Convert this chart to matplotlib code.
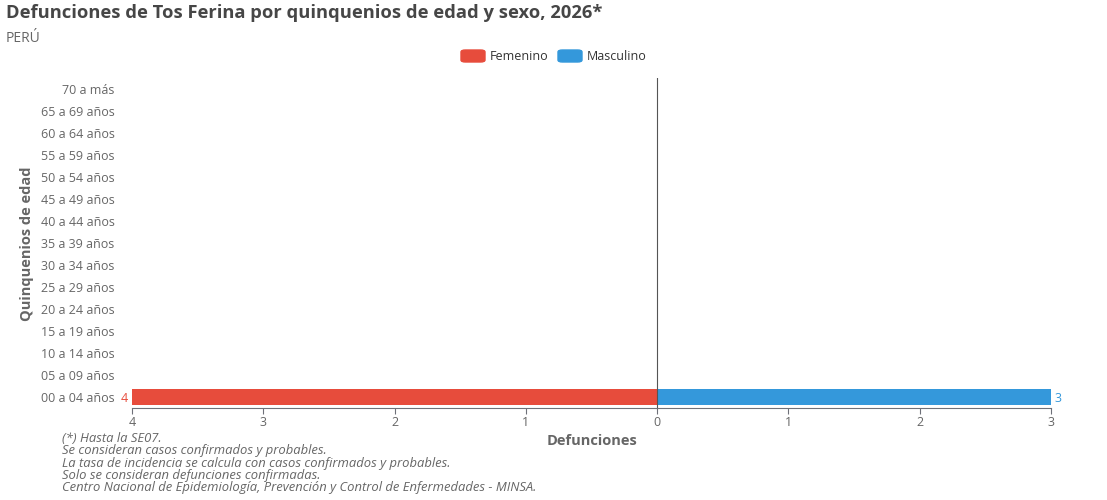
import matplotlib.pyplot as plt
from matplotlib.patches import FancyBboxPatch
from matplotlib.ticker import FuncFormatter
import numpy as np

plt.rcParams['font.family'] = ['Open Sans', 'DejaVu Sans']

grupos = ['00 a 04 años', '05 a 09 años', '10 a 14 años', '15 a 19 años',
          '20 a 24 años', '25 a 29 años', '30 a 34 años', '35 a 39 años',
          '40 a 44 años', '45 a 49 años', '50 a 54 años', '55 a 59 años',
          '60 a 64 años', '65 a 69 años', '70 a más']
femenino = [4, 0, 0, 0, 0, 0, 0, 0, 0, 0, 0, 0, 0, 0, 0]
masculino = [3, 0, 0, 0, 0, 0, 0, 0, 0, 0, 0, 0, 0, 0, 0]

notas = ['(*) Hasta la SE07.',
         'Se consideran casos confirmados y probables.',
         'La tasa de incidencia se calcula con casos confirmados y probables.',
         'Solo se consideran defunciones confirmadas.',
         'Centro Nacional de Epidemiología, Prevención y Control de Enfermedades - MINSA.']

rojo = '#E74C3C'
azul = '#3498DB'
gris = '#666666'

fig = plt.figure(figsize=(11.07, 5), dpi=100)
ax = fig.add_axes([132 / 1107, 1 - 408 / 500, 919 / 1107, 330 / 500])

y = np.arange(len(grupos))
fem = -np.array(femenino)
mas = np.array(masculino)
ax.barh(y, fem, height=0.7, color=rojo)
ax.barh(y, mas, height=0.7, color=azul)

for i in range(len(grupos)):
    if femenino[i] > 0:
        ax.text(fem[i] - 0.03, y[i], str(femenino[i]), color=rojo,
                ha='right', va='center_baseline', fontsize=9)
    if masculino[i] > 0:
        ax.text(mas[i] + 0.03, y[i], str(masculino[i]), color=azul,
                ha='left', va='center_baseline', fontsize=9)

ax.axvline(0, color='#555555', lw=0.8)
ax.set_xlim(-max(femenino), max(masculino))
ax.set_ylim(-0.5, len(grupos) - 0.5)
ax.set_xticks(np.arange(-max(femenino), max(masculino) + 1))
ax.xaxis.set_major_formatter(FuncFormatter(lambda v, p: '%d' % abs(v)))
ax.set_yticks(y)
ax.set_yticklabels(grupos)

for s in ['top', 'right', 'left']:
    ax.spines[s].set_visible(False)
ax.spines['bottom'].set_color('#6E7079')
ax.tick_params(axis='y', length=0, labelsize=9, labelcolor=gris, pad=12.5)
ax.tick_params(axis='x', length=4, color='#6E7079', labelsize=9,
               labelcolor=gris, pad=2)

ax.set_xlabel('Defunciones', fontsize=10.5, fontweight='bold', color=gris, labelpad=3.5)
fig.text(27 / 1107, 1 - 244 / 500, 'Quinquenios de edad', rotation=90,
         fontsize=10.5, fontweight='bold', color=gris, ha='center', va='center')

fig.text(6 / 1107, 1 - 13 / 500, 'Defunciones de Tos Ferina por quinquenios de edad y sexo, 2026*',
         fontsize=13.25, fontweight='bold', color='#464646', va='center')
fig.text(6 / 1107, 1 - 38 / 500, 'PERÚ', fontsize=10, color=gris, va='center')

# leyenda
for x0, col, lab in [(461, rojo, 'Femenino'), (558, azul, 'Masculino')]:
    fig.patches.append(FancyBboxPatch((x0 / 1107, 1 - 62 / 500), 24 / 1107, 12 / 500,
                                      boxstyle='round,pad=0,rounding_size=0.004',
                                      transform=fig.transFigure, color=col))
    fig.text((x0 + 29) / 1107, 1 - 56 / 500, lab, fontsize=9, color='#333333', va='center')

for i, n in enumerate(notas):
    fig.text(62 / 1107, 1 - (438 + i * 12.5) / 500, n, fontsize=9.4, style='italic',
             color=gris, va='center')

fig.savefig('out.png', dpi=100)
